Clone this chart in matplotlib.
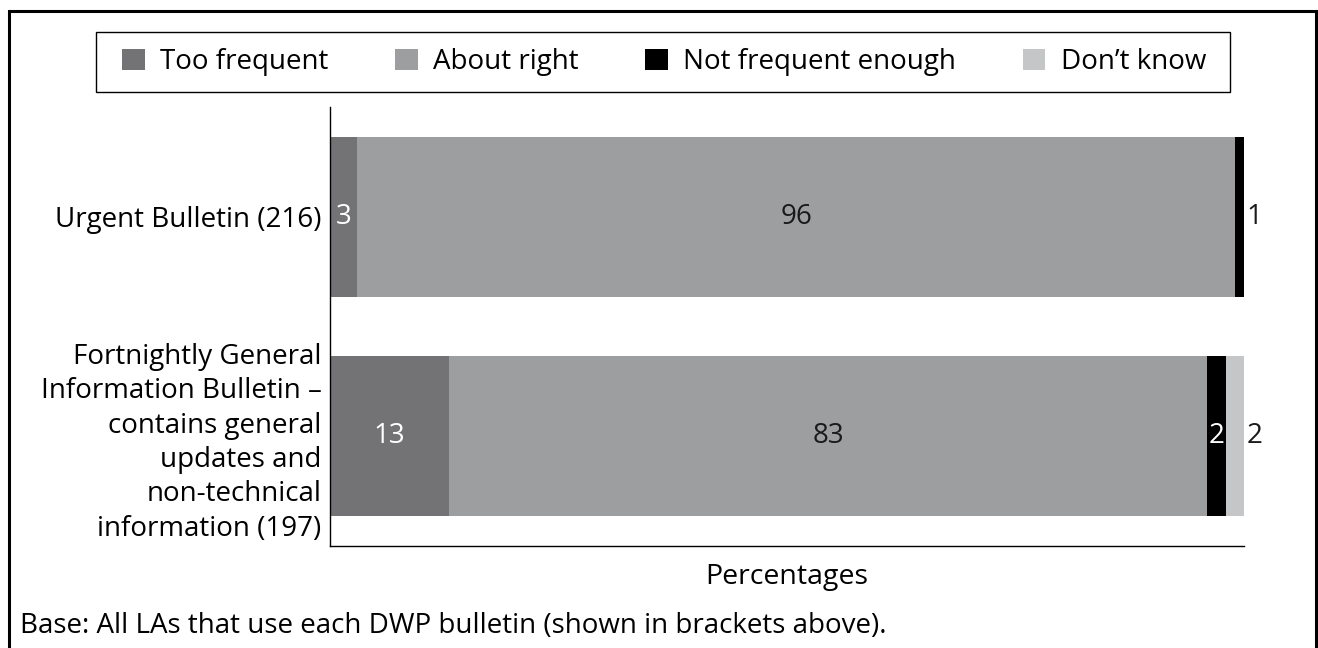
import matplotlib
matplotlib.use("Agg")
import matplotlib.pyplot as plt
from matplotlib.patches import Rectangle, Patch
import numpy as np

plt.rcParams['font.family'] = ['Open Sans', 'DejaVu Sans']

categories = ["Urgent Bulletin (216)",
              "Fortnightly General\nInformation Bulletin \u2013\ncontains general\nupdates and\nnon-technical\ninformation (197)"]
series = ["Too frequent", "About right", "Not frequent enough", "Don\u2019t know"]
too_frequent = [3, 13]
about_right = [96, 83]
not_enough = [1, 2]
dont_know = [0, 2]
values = [too_frequent, about_right, not_enough, dont_know]
colors = ["#737375", "#9d9ea0", "#000000", "#c5c6c8"]
text_colors = ["white", "#1a1a1a", "white", "#1a1a1a"]

W, H = 1318, 648
fig = plt.figure(figsize=(W / 100, H / 100), dpi=100)

def fx(px):
    return px / W

def fy(py):
    return 1 - py / H

ax = fig.add_axes([fx(330), fy(546), fx(1244) - fx(330), fy(107) - fy(546)])

y = np.arange(len(categories))
left = np.zeros(len(categories))
FS = 20
for i, (name, vals, col) in enumerate(zip(series, values, colors)):
    vals = np.array(vals, dtype=float)
    ax.barh(y, vals, left=left, height=0.727, color=col, label=name, linewidth=0)
    for j, v in enumerate(vals):
        if v <= 0:
            continue
        # last nonzero segment of the row
        rest = sum(values[k][j] for k in range(i + 1, len(values)))
        if rest == 0 and v < 5:
            ax.annotate(f"{int(v)}", xy=(left[j] + v, y[j]), xytext=(2, 0),
                        textcoords="offset points", ha="left", va="center",
                        fontsize=FS, color="#1a1a1a")
        else:
            ax.text(left[j] + v / 2, y[j], f"{int(v)}", ha="center", va="center",
                    fontsize=FS, color=text_colors[i])
    left += vals

ax.set_xlim(0, 100)
ax.set_ylim(1.5, -0.5)
ax.set_yticks(y)
ax.set_yticklabels(categories, fontsize=FS, linespacing=1.3)
ax.tick_params(axis="y", length=0, pad=6)
ax.set_xticks([])
for s in ["top", "right"]:
    ax.spines[s].set_visible(False)
ax.spines["left"].set_linewidth(1.0)
ax.spines["bottom"].set_linewidth(1.0)

ax.set_xlabel("Percentages", fontsize=20.5, labelpad=12)

# legend content (frame drawn separately so the padding matches)
handles = [Patch(facecolor=c, edgecolor="none") for c in colors]
leg = fig.legend(handles, series, loc="center",
                 bbox_to_anchor=(fx(122), fy(92), fx(1206) - fx(122), fy(32) - fy(92)),
                 mode="expand", ncol=4, fontsize=FS, frameon=False,
                 handlelength=0.82, handleheight=0.82, handletextpad=0.55,
                 borderaxespad=0, borderpad=0)
fig.patches.append(Rectangle((fx(96), fy(92)), fx(1230) - fx(96), fy(32) - fy(92),
                             transform=fig.transFigure, fill=False, edgecolor="black",
                             linewidth=1.0))

fig.text(fx(20), fy(626), "Base: All LAs that use each DWP bulletin (shown in brackets above).",
         ha="left", va="center", fontsize=FS)

fig.patches.append(Rectangle((fx(9), fy(660)), fx(1316) - fx(9), fy(11) - fy(660),
                             transform=fig.transFigure, fill=False, edgecolor="black",
                             linewidth=2.2, clip_on=False))

fig.savefig("out.png", dpi=100)
